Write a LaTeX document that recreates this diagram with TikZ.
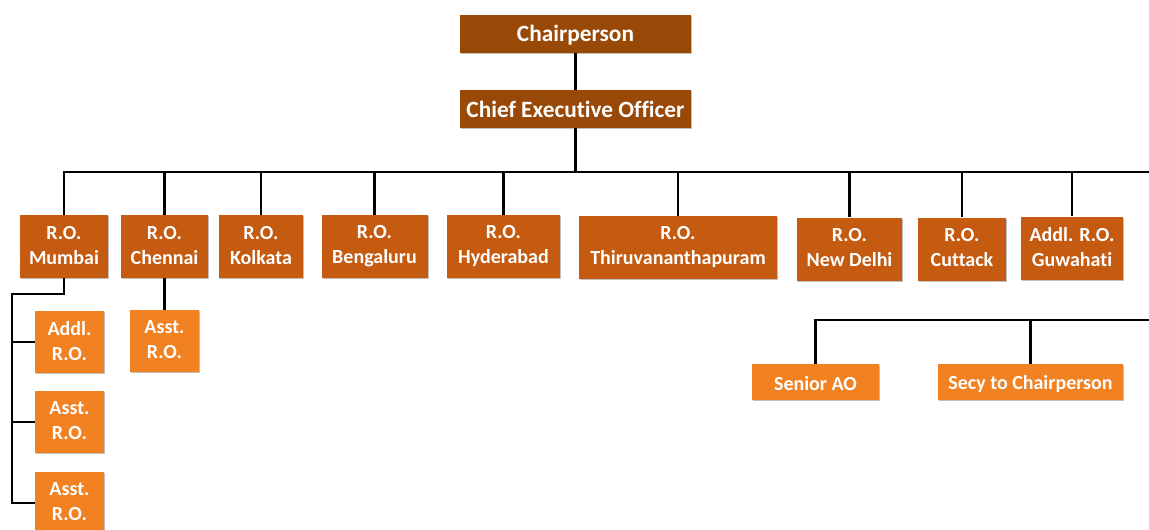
\documentclass[tikz,border=0pt]{standalone}
\usepackage{fontspec}
\setmainfont{Carlito}[Ligatures=CommonOff]
\usetikzlibrary{shadows}
\definecolor{topbrown}{RGB}{152,72,7}
\definecolor{robrown}{RGB}{197,90,17}
\definecolor{lightor}{RGB}{241,129,33}
\newcommand\boxstrut{\rule[-2pt]{0pt}{16pt}}
\tikzset{
  box/.style={text=white, inner sep=0pt, align=center, font=\bfseries\fontsize{15}{18.75}\selectfont,
    execute at begin node=\boxstrut, execute at end node=\boxstrut,
    drop shadow={shadow xshift=1pt, shadow yshift=-1pt, opacity=0.25, fill=black}},
  topbox/.style={box, fill=topbrown, minimum width=173.25pt, minimum height=28.5pt,
    font=\bfseries\fontsize{17.5}{21}\selectfont},
  robox/.style={box, fill=robrown, minimum height=47.25pt},
  subbox/.style={box, fill=lightor, minimum width=51.75pt, minimum height=46.5pt},
  staffbox/.style={box, fill=lightor, minimum height=27pt},
  link/.style={line width=2.2pt}
}
\begin{document}
\begin{tikzpicture}[x=0.75pt, y=-0.75pt]
      \useasboundingbox (0,0) rectangle (1149,529);

      \node[topbox] (chair) at (575.5,34) {Chairperson};
      \node[topbox] (ceo) at (575.5,109) {Chief Executive Officer};

      \node[robox, minimum width=66pt] (mumbai) at (64,246.5) {R.O.\\Mumbai};
      \node[robox, minimum width=65.25pt] (chennai) at (164.5,246.5) {R.O.\\Chennai};
      \node[robox, minimum width=63pt] (kolkata) at (261,246.5) {R.O.\\Kolkata};
      \node[robox, minimum width=79.5pt] (bengaluru) at (374.5,246.5) {R.O.\\Bengaluru};
      \node[robox, minimum width=84.75pt] (hyderabad) at (503.5,246.5) {R.O.\\Hyderabad};
      \node[robox, minimum width=148.5pt] (thiru) at (678,247.5) {R.O.\\Thiruvananthapuram};
      \node[robox, minimum width=78.75pt] (newdelhi) at (849.5,249) {R.O.\\New Delhi};
      \node[robox, minimum width=66pt] (cuttack) at (962,249) {R.O.\\Cuttack};
      \node[robox, minimum width=76.5pt] (guwahati) at (1072,248) {Addl. R.O.\\Guwahati};

      \node[subbox] (mumaddl) at (69.5,342) {Addl.\\R.O.};
      \node[subbox] (mumasstA) at (69.5,422) {Asst.\\R.O.};
      \node[subbox] (mumasstB) at (69.5,503) {Asst.\\R.O.};
      \node[subbox] (chenasst) at (164.5,341) {Asst.\\R.O.};

      \node[staffbox, minimum width=95.25pt] (seniorao) at (815.5,382) {Senior AO};
      \node[staffbox, minimum width=138.75pt] (secy) at (1030.5,382) {Secy to Chairperson};

      \coordinate (busR) at (1149,172);
      \coordinate (staffR) at (1149,320);
      \coordinate (mumL) at (12,294);

      \draw[link] (chair) -- (ceo);
      \draw[link] (ceo.south) -- (ceo.south |- busR);
      \draw[link] (mumbai.north) |- (busR);
      \foreach \ro in {chennai,kolkata,bengaluru,hyderabad,thiru,newdelhi,cuttack,guwahati}{
        \draw[link] (\ro.north) -- (\ro.north |- busR);
      }

      \draw[link] (mumbai.south) |- (mumL) |- (mumasstB.west);
      \draw[link] (mumaddl.west) -| (mumL);
      \draw[link] (mumasstA.west) -| (mumL);
      \draw[link] (chennai.south) -- (chenasst.north);

      \draw[link] (seniorao.north) |- (staffR);
      \draw[link] (secy.north) -- (secy.north |- staffR);
    \end{tikzpicture}
\end{document}
